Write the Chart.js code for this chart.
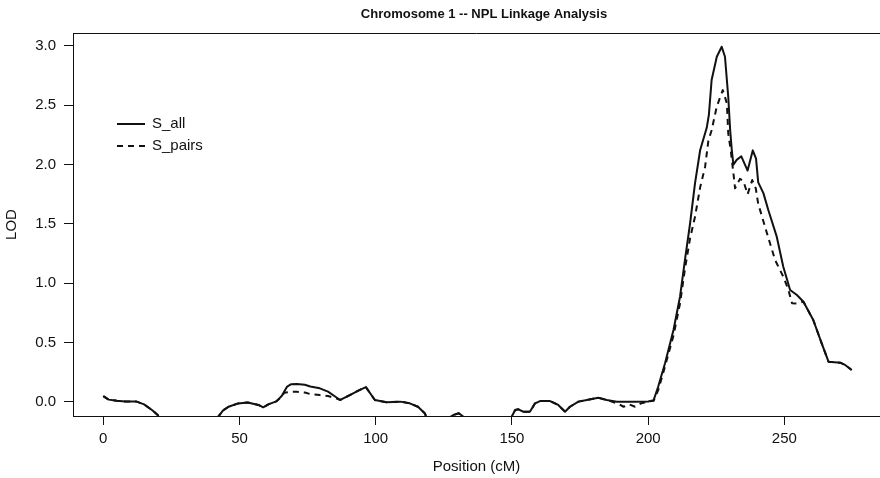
<!DOCTYPE html>
<html>
<head>
<meta charset="utf-8">
<title>Chromosome 1 -- NPL Linkage Analysis</title>
<script src="https://cdn.jsdelivr.net/npm/chart.js@4"></script>
<style>
  html, body { margin: 0; padding: 0; background: #fff; overflow: hidden; }
  canvas { display: block; }
</style>
</head>
<body>
<canvas id="lodChart" width="880" height="478"></canvas>
<script>
// NPL scores along chromosome 1 (position in cM, LOD)
const allPositions = [
  0, 2, 5, 8, 12, 15, 18, 20, 23, 30, 38, 42, 44, 46, 49.5, 53, 57, 58.7, 60.6, 63.5,
  65.5, 67.5, 69, 71, 74, 76, 79.5, 82.5, 85.5, 87, 90.5, 94, 96.4, 99.7, 104, 109,
  112.5, 115.5, 118, 120, 125, 128.5, 130.5, 132, 138, 145, 150, 151.2, 152.4, 154.2,
  156.6, 158.5, 160.3, 164, 167, 169.5, 171.3, 174.4, 177.5, 181.7, 184.8, 188.5, 195,
  200, 202, 203.7, 206.2, 209.3, 211.7, 213.5, 215.4, 217.2, 219.1, 221.5, 222.3, 223.3,
  225.2, 227, 228.2, 229.4, 230.1, 230.7, 231.3, 232.5, 234.2, 236.5, 238.4, 239.6,
  240.4, 242.3, 244.1, 247.2, 249.6, 252.1, 254.6, 257, 260.6, 263.7, 266.2, 270.5,
  272.3, 274.7
];
const allLod = [
  0.05, 0.02, 0.01, 0.005, 0.005, -0.02, -0.07, -0.11, -0.25, -0.42, -0.3, -0.13, -0.07,
  -0.04, -0.012, -0.004, -0.025, -0.045, -0.02, 0.005,
  0.05, 0.13, 0.15, 0.152, 0.145, 0.13, 0.115, 0.087, 0.04, 0.017, 0.058, 0.1, 0.125,
  0.017, -0.003, 0.003,
  -0.011, -0.04, -0.095, -0.2, -0.16, -0.11, -0.095, -0.12, -0.45, -0.35, -0.12, -0.067,
  -0.062, -0.082,
  -0.082, -0.011, 0.008, 0.008, -0.025, -0.082, -0.04, 0.003, 0.017, 0.036, 0.017, 0.003,
  0.003,
  0.005, 0.015, 0.13, 0.326, 0.607, 0.887, 1.196, 1.506, 1.842, 2.123, 2.31, 2.42, 2.713,
  2.909, 2.993, 2.909, 2.572, 2.292, 2.123, 2.0, 2.04, 2.07, 1.95, 2.12, 2.05,
  1.85, 1.76, 1.618, 1.393, 1.14, 0.944, 0.901, 0.845, 0.691, 0.494, 0.34, 0.331,
  0.312, 0.27
];

const pairsPositions = [
  0, 2, 5, 8, 12, 15, 18, 20, 23, 30, 38, 42, 44, 46, 49.5, 53, 57, 58.7, 60.6, 63.5,
  65.5, 66.4, 69, 71, 74, 76, 79.5, 82.5, 85.5, 87, 90.5, 94, 96.4, 99.7, 104, 109,
  112.5, 115.5, 118, 120, 125, 128.5, 130.5, 132, 138, 145, 150, 151.2, 152.4, 154.2,
  156.6, 158.5, 160.3, 164, 167, 169.5, 171.3, 174.4, 177.5, 181.7, 184.8, 188.5, 191,
  193, 195.2, 197.5, 200, 202, 203.7, 206.2, 209.3, 211.7, 213.5, 215.4, 217.2, 219.1,
  220.9, 222.1, 223.3, 225.2, 227.4, 228.9, 229.4, 230.3, 231.3, 231.9, 233.7, 235,
  236.5, 238.2, 239.5, 240.4, 243.5, 246.6, 249.6, 251.5, 252.8, 254.6, 257, 260.6,
  263.7, 266.2, 270.5, 272.3, 274.7
];
const pairsLod = [
  0.05, 0.02, 0.01, 0.005, 0.005, -0.02, -0.07, -0.11, -0.25, -0.42, -0.3, -0.13, -0.07,
  -0.04, -0.012, -0.004, -0.025, -0.048, -0.02, 0.005,
  0.045, 0.078, 0.085, 0.087, 0.08, 0.067, 0.058, 0.05, 0.03, 0.017, 0.058, 0.1, 0.125,
  0.017, -0.003, 0.003,
  -0.011, -0.04, -0.095, -0.2, -0.16, -0.11, -0.095, -0.12, -0.45, -0.35, -0.12, -0.067,
  -0.062, -0.082,
  -0.082, -0.011, 0.008, 0.008, -0.025, -0.082, -0.04, 0.003, 0.017, 0.036, 0.017, -0.01,
  -0.04,
  -0.02, -0.04, -0.01, 0.005, 0.01, 0.1, 0.3, 0.56, 0.83, 1.12, 1.38, 1.56, 1.81,
  1.98, 2.2, 2.29, 2.49, 2.628, 2.516, 2.264, 2.123, 1.927, 1.8, 1.88, 1.86,
  1.75, 1.87, 1.8, 1.67, 1.43, 1.196, 1.056, 0.944, 0.831, 0.83, 0.845, 0.691,
  0.494, 0.34, 0.331, 0.312, 0.27
];

const lodTicks = [0, 0.5, 1, 1.5, 2, 2.5, 3];
const positionTicks = [0, 50, 100, 150, 200, 250];

const seriesNames = ['S_all', 'S_pairs'];
const chartTitle = 'Chromosome 1 -- NPL Linkage Analysis';

const toPoints = (xs, ys) => xs.map((x, i) => ({ x: x, y: ys[i] }));

const FONT = "'Liberation Sans', Arial, Helvetica, sans-serif";
const INK = '#111';

// title, top edge of the box and the legend, R style
const decorations = {
  id: 'decorations',
  afterDraw(chart) {
    const { ctx, chartArea } = chart;
    ctx.save();

    ctx.strokeStyle = INK;
    ctx.lineWidth = 1;
    ctx.beginPath();
    ctx.moveTo(chartArea.left, chartArea.top + 0.5);
    ctx.lineTo(chartArea.right, chartArea.top + 0.5);
    ctx.stroke();

    ctx.fillStyle = INK;
    ctx.font = 'bold 13px ' + FONT;
    ctx.textAlign = 'center';
    ctx.textBaseline = 'middle';
    ctx.fillText(chartTitle, 484, 14);

    const lx = chartArea.left + 44;
    const ly = chartArea.top + 91;
    ctx.font = '15px ' + FONT;
    ctx.textAlign = 'left';
    chart.data.datasets.forEach((ds, i) => {
      const y = ly + i * 22;
      ctx.lineWidth = ds.borderWidth;
      ctx.setLineDash(ds.borderDash || []);
      ctx.beginPath();
      ctx.moveTo(lx, y);
      ctx.lineTo(lx + 28, y);
      ctx.stroke();
      ctx.setLineDash([]);
      ctx.fillText(ds.label, lx + 35, y);
    });
    ctx.restore();
  }
};

new Chart(document.getElementById('lodChart'), {
  type: 'line',
  data: {
    datasets: [
      {
        label: seriesNames[0],
        data: toPoints(allPositions, allLod),
        borderColor: INK,
        borderWidth: 2,
        pointRadius: 0,
        tension: 0,
        borderJoinStyle: 'round'
      },
      {
        label: seriesNames[1],
        data: toPoints(pairsPositions, pairsLod),
        borderColor: INK,
        borderWidth: 2,
        borderDash: [6, 5],
        pointRadius: 0,
        tension: 0,
        borderJoinStyle: 'round'
      }
    ]
  },
  options: {
    responsive: false,
    animation: false,
    devicePixelRatio: 1,
    layout: { padding: { top: 33, right: 0, left: 0, bottom: 0 } },
    plugins: {
      legend: { display: false },
      title: { display: false },
      tooltip: { enabled: false }
    },
    scales: {
      x: {
        type: 'linear',
        min: -11.1,
        max: 285.1,
        afterBuildTicks(scale) {
          scale.ticks = positionTicks.map(v => ({ value: v }));
        },
        afterFit(scale) { scale.height = 62; },
        ticks: {
          color: INK,
          font: { family: FONT, size: 15 },
          padding: 5,
          maxRotation: 0,
          callback: v => String(v)
        },
        grid: {
          drawOnChartArea: false,
          drawTicks: true,
          tickLength: 9,
          color: INK
        },
        border: { display: true, color: INK, width: 1 },
        title: {
          display: true,
          text: 'Position (cM)',
          color: INK,
          font: { family: FONT, size: 15 },
          padding: { top: 0, bottom: 2 }
        }
      },
      y: {
        type: 'linear',
        min: -0.118,
        max: 3.109,
        afterBuildTicks(scale) {
          scale.ticks = lodTicks.map(v => ({ value: v }));
        },
        afterFit(scale) { scale.width = 73; },
        ticks: {
          color: INK,
          font: { family: FONT, size: 15 },
          padding: 8,
          callback: v => v.toFixed(1)
        },
        grid: {
          drawOnChartArea: false,
          drawTicks: true,
          tickLength: 9,
          color: INK
        },
        border: { display: true, color: INK, width: 1 },
        title: {
          display: true,
          text: 'LOD',
          color: INK,
          font: { family: FONT, size: 15 },
          padding: { top: 3, bottom: 0 }
        }
      }
    }
  },
  plugins: [decorations]
});
</script>
</body>
</html>
